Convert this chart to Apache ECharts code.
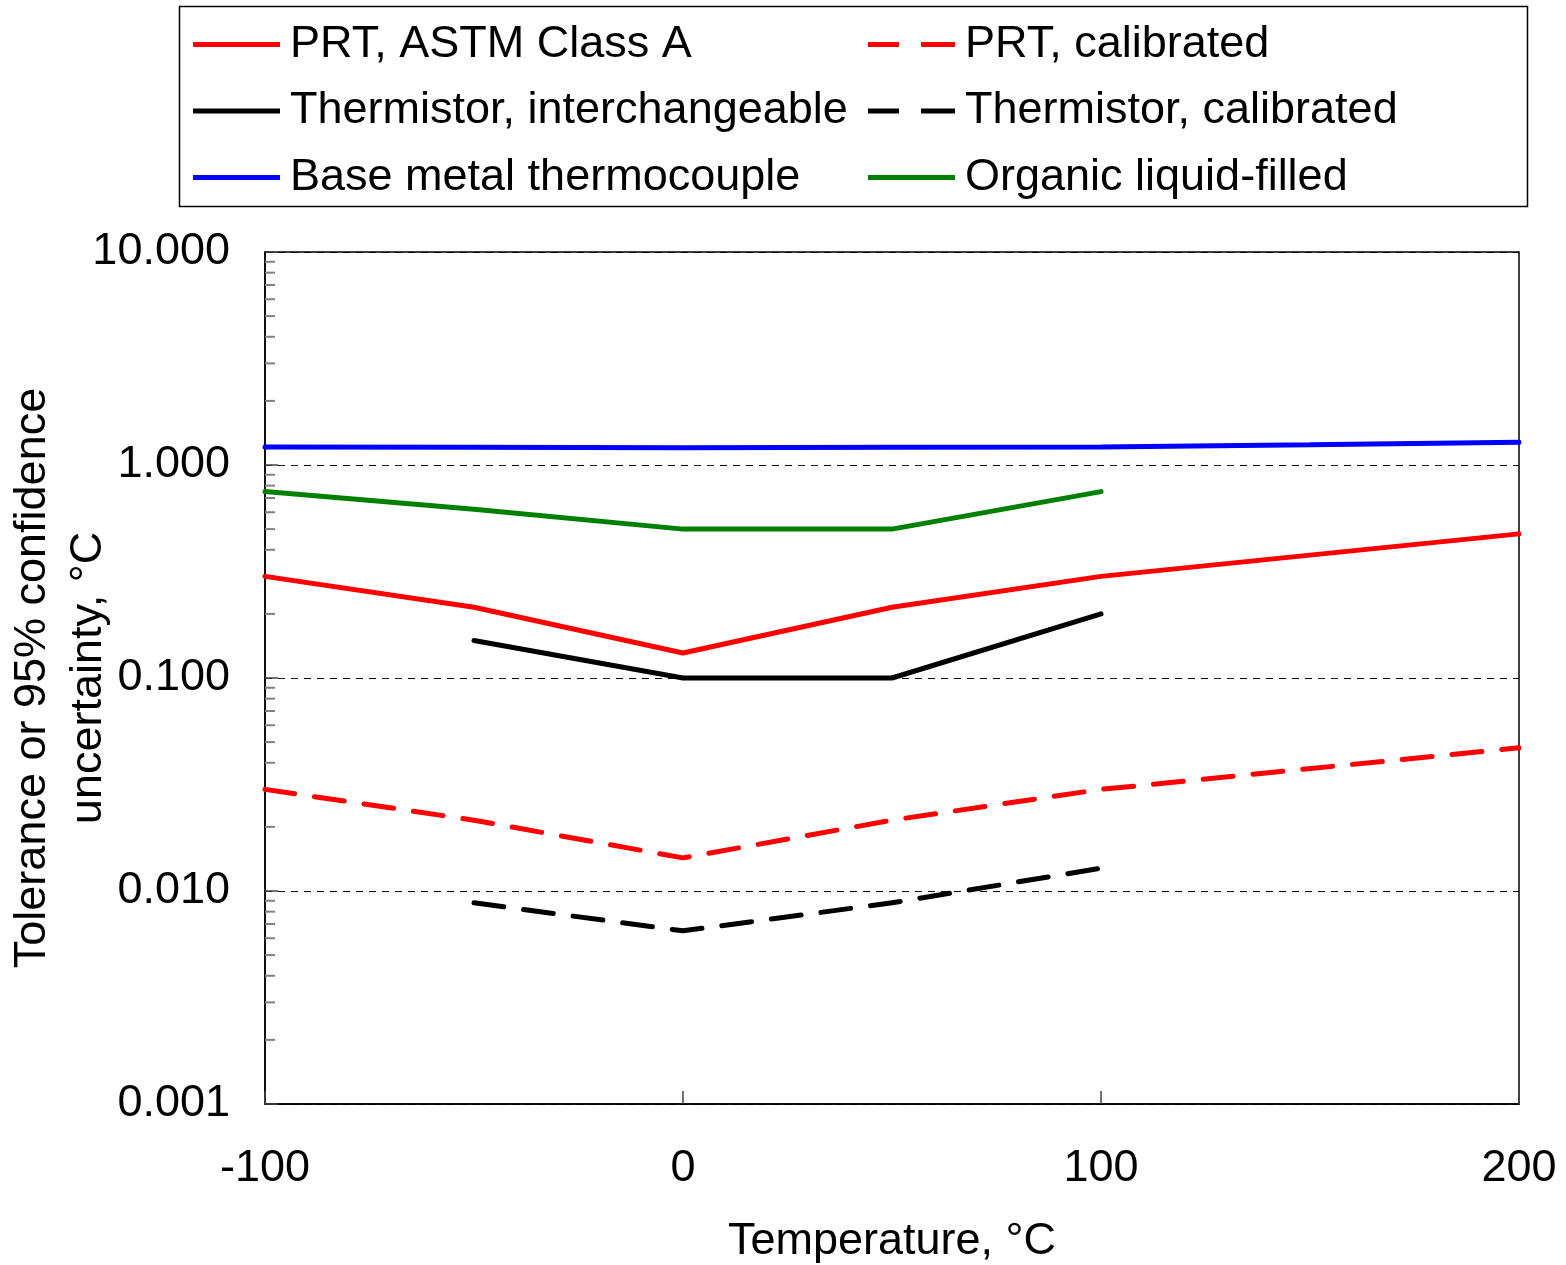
<!DOCTYPE html>
<html>
<head>
<meta charset="utf-8">
<script src="https://cdn.jsdelivr.net/npm/echarts@6/dist/echarts.min.js"></script>
<style>html,body{margin:0;padding:0;background:#fff}#c{width:1566px;height:1265px}</style>
</head>
<body>
<div id="c"></div>
<script>
// ---- data ----
const xTicks = [-100, 0, 100, 200];
const yTickLabels = ['0.001', '0.010', '0.100', '1.000', '10.000'];

const prtClassAX = [-100, -50, 0, 50, 100, 200];
const prtClassAY = [0.30, 0.215, 0.131, 0.215, 0.30, 0.475];

const prtCalX = [-100, -50, 0, 50, 100, 200];
const prtCalY = [0.030, 0.0215, 0.0143, 0.0215, 0.030, 0.047];

const thermInterX = [-50, 0, 50, 100];
const thermInterY = [0.15, 0.10, 0.10, 0.20];

const thermCalX = [-50, 0, 50, 100];
const thermCalY = [0.0088, 0.0065, 0.0088, 0.0128];

const baseTcX = [-100, -50, 0, 50, 100, 150, 200];
const baseTcY = [1.215, 1.21, 1.205, 1.21, 1.215, 1.245, 1.28];

const organicX = [-100, -50, 0, 50, 100];
const organicY = [0.75, 0.62, 0.50, 0.50, 0.75];

const names = {
  prtA: 'PRT, ASTM Class A',
  prtCal: 'PRT, calibrated',
  thInt: 'Thermistor, interchangeable',
  thCal: 'Thermistor, calibrated',
  tc: 'Base metal thermocouple',
  org: 'Organic liquid-filled'
};

// minor tick values of the log axis (2..9 x each decade)
const minorTickValues = [];
[0.001, 0.01, 0.1, 1].forEach(d => { for (let k = 2; k <= 9; k++) minorTickValues.push(+(k * d).toPrecision(3)); });

// ---- build ----
const zip = (xs, ys) => xs.map((x, i) => [x, ys[i]]);
const FONT = 'Liberation Sans, Arial, sans-serif';
const FS = 45;
const SOLID_ICON = 'path://M0,0h87v5h-87z';
const DASH_ICON = 'path://M0,0h31v5h-31z M53,0h34v5h-34z';

function lineSeries(name, xs, ys, color, dashed) {
  return {
    name, type: 'line', data: zip(xs, ys), symbol: 'none', showSymbol: false,
    lineStyle: { color, width: 5, type: dashed ? [30, 20] : 'solid', cap: 'round' },
    itemStyle: { color }, z: 5, animation: false
  };
}

const chart = echarts.init(document.getElementById('c'), null, { renderer: 'canvas' });
const legendCommon = {
  orient: 'vertical', itemWidth: 87, itemHeight: 5, itemGap: 18.5,
  textStyle: { fontFamily: FONT, fontSize: FS, color: '#000', lineHeight: 48, padding: [0, 0, 0, 5] },
  selectedMode: false, padding: 0
};
chart.setOption({
  animation: false,
  backgroundColor: '#fff',
  graphic: [{ type: 'rect', shape: { x: 179.5, y: 6.5, width: 1348, height: 200 },
    style: { fill: 'none', stroke: '#000', lineWidth: 1.5 }, z: 0, silent: true }],
  legend: [
    Object.assign({}, legendCommon, { left: 193, top: 20.5, data: [
      { name: names.prtA, icon: SOLID_ICON }, { name: names.thInt, icon: SOLID_ICON }, { name: names.tc, icon: SOLID_ICON }] }),
    Object.assign({}, legendCommon, { left: 868, top: 20.5, data: [
      { name: names.prtCal, icon: DASH_ICON }, { name: names.thCal, icon: DASH_ICON }, { name: names.org, icon: SOLID_ICON }] })
  ],
  grid: { left: 265, right: 47, top: 252, bottom: 161, show: true, borderColor: '#000', borderWidth: 1.5,
    backgroundColor: 'transparent', containLabel: false, outerBoundsMode: 'none' },
  xAxis: {
    type: 'value', min: -100, max: 200, interval: 100,
    name: 'Temperature, °C', nameLocation: 'middle', nameGap: 115, nameMoveOverlap: false,
    nameTextStyle: { fontFamily: FONT, fontSize: FS, color: '#000' },
    axisLine: { show: true, onZero: false, lineStyle: { color: '#000', width: 1.5 } },
    axisTick: { show: true, inside: true, length: 13, lineStyle: { color: '#444', width: 1.5 } },
    axisLabel: { fontFamily: FONT, fontSize: FS, color: '#000', margin: 42, formatter: v => xTicks.includes(v) ? String(v) : '' },
    splitLine: { show: false }
  },
  yAxis: {
    type: 'log', logBase: 10, min: 0.001, max: 10,
    name: 'Tolerance or 95% confidence\nuncertainty, °C', nameLocation: 'middle', nameGap: 148, nameMoveOverlap: false,
    nameTextStyle: { fontFamily: FONT, fontSize: FS, color: '#000', lineHeight: 56, align: 'center' },
    axisLine: { show: true, onZero: false, lineStyle: { color: '#000', width: 1.5 } },
    axisTick: { show: true, inside: true, length: 13, lineStyle: { color: '#444', width: 1.5 } },
    axisLabel: { fontFamily: FONT, fontSize: FS, color: '#000', margin: 35,
      formatter: v => { const s = Number(v).toFixed(3); return yTickLabels.includes(s) ? s : ''; } },
    splitLine: { show: true, lineStyle: { color: '#000', width: 1, type: [7, 6] } }
  },
  series: [
    lineSeries(names.prtA, prtClassAX, prtClassAY, '#ff0000', false),
    lineSeries(names.prtCal, prtCalX, prtCalY, '#ff0000', true),
    lineSeries(names.thInt, thermInterX, thermInterY, '#000000', false),
    lineSeries(names.thCal, thermCalX, thermCalY, '#000000', true),
    lineSeries(names.tc, baseTcX, baseTcY, '#0000ff', false),
    lineSeries(names.org, organicX, organicY, '#008000', false),
    {
      name: 'minorTicks', type: 'custom', silent: true, z: 3,
      data: minorTickValues.map(v => [-100, v]),
      renderItem: (params, api) => {
        const p = api.coord([api.value(0), api.value(1)]);
        return { type: 'line', shape: { x1: p[0], y1: p[1], x2: p[0] + 10, y2: p[1] },
          style: { stroke: '#808080', lineWidth: 2 } };
      }
    }
  ]
});
</script>
</body>
</html>
